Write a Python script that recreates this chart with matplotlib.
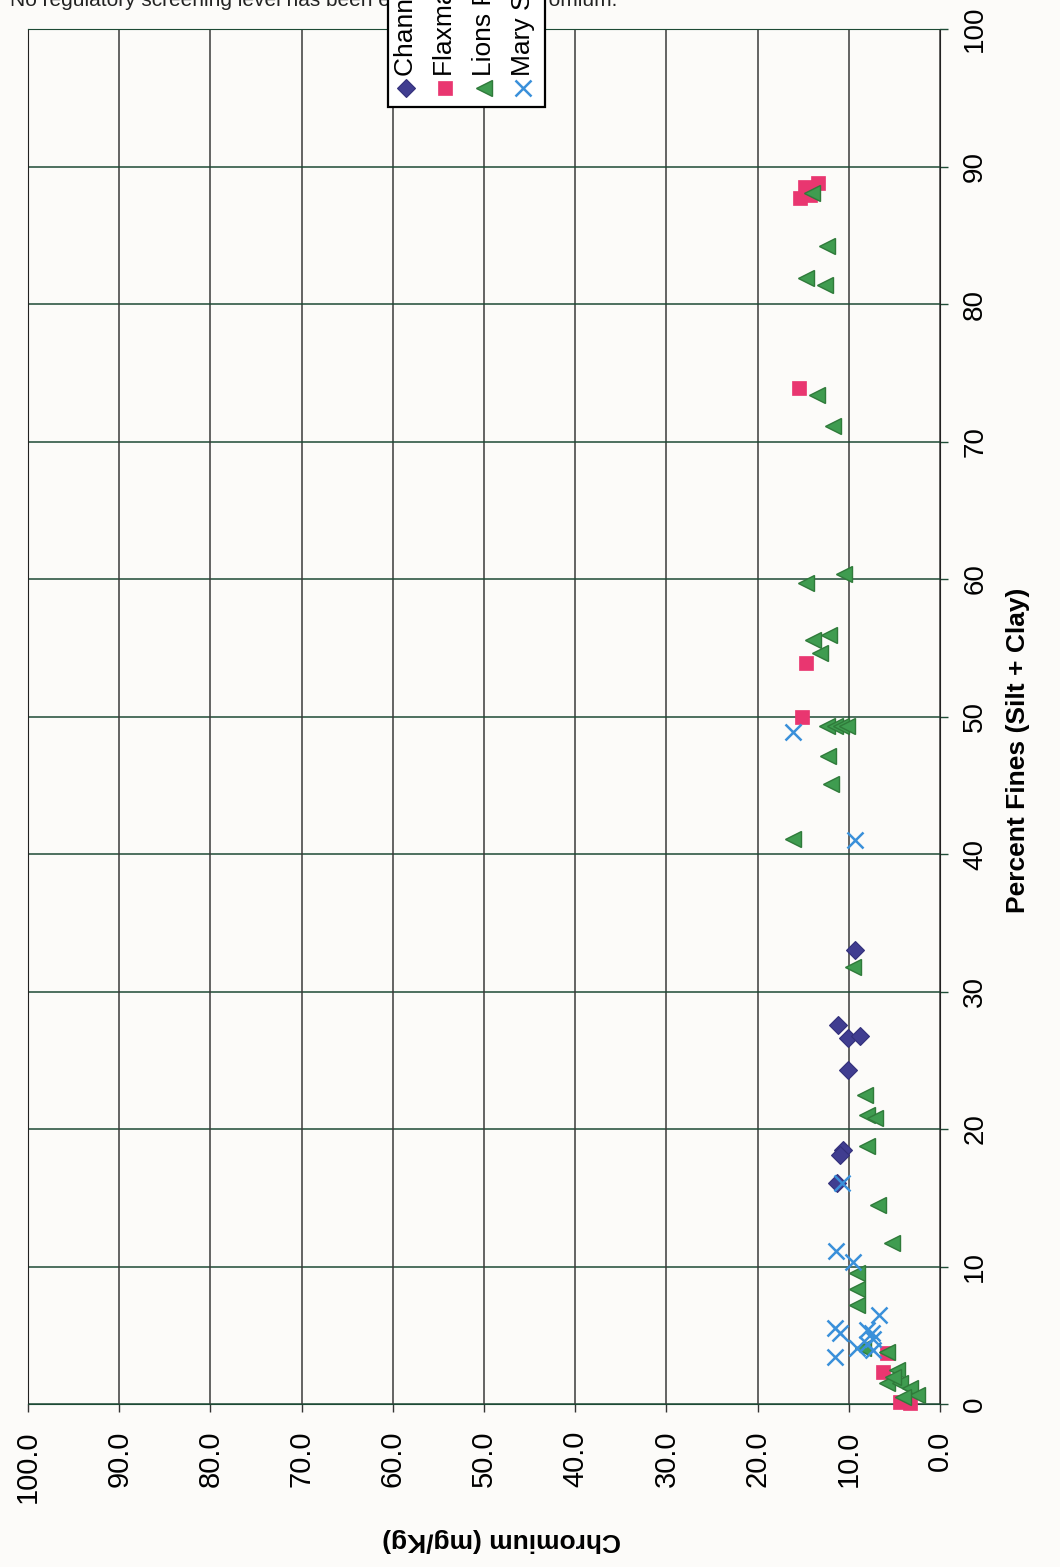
import matplotlib
matplotlib.use("Agg")
import numpy as np
import matplotlib.pyplot as plt
from matplotlib.patches import Rectangle

plt.rcParams['font.family'] = ['Liberation Sans', 'DejaVu Sans']

# chromium (mg/Kg) vs percent fines for each site
series_names = ['Channel Islands', 'Flaxman Pond', 'Lions Park', 'Mary Street']

channel_cr = [11.2, 10.1, 8.8, 10.1, 10.6, 11.0, 11.3, 9.3]
channel_fines = [27.6, 26.6, 26.8, 24.3, 18.5, 18.1, 16.1, 33.0]

flaxman_cr = [13.4, 14.8, 15.4, 14.3, 15.5, 14.7, 15.1, 5.8, 6.3, 4.4, 3.3]
flaxman_fines = [88.8, 88.5, 87.7, 87.9, 73.9, 53.9, 50.0, 3.7, 2.3, 0.15, 0.1]

lions_cr = [14.0, 12.4, 14.7, 12.6, 13.5, 11.7, 10.5, 14.7, 12.2, 13.9, 13.2,
            12.4, 11.5, 10.9, 10.2, 12.3, 12.0, 16.1, 9.5, 8.2, 8.0, 7.1, 8.0,
            6.8, 5.3, 9.1, 9.1, 9.1, 5.8, 4.7, 5.8, 4.4, 3.3, 2.5, 4.1, 5.2, 8.4]
lions_fines = [88.1, 84.2, 81.9, 81.4, 73.4, 71.1, 60.4, 59.7, 55.9, 55.6, 54.6,
               49.3, 49.3, 49.3, 49.3, 47.1, 45.1, 41.1, 31.8, 22.5, 21.0, 20.8, 18.8,
               14.5, 11.7, 9.5, 8.4, 7.2, 3.8, 2.5, 1.5, 1.5, 1.2, 0.65, 0.5, 2.0, 4.1]

mary_cr = [16.1, 9.3, 10.7, 11.4, 9.5, 6.7, 11.5, 11.0, 8.0, 7.5, 7.3, 8.0, 9.1, 11.5, 7.3]
mary_fines = [48.9, 41.0, 16.1, 11.1, 10.3, 6.5, 5.5, 5.2, 5.4, 5.2, 4.7, 4.4, 4.1, 3.4, 3.9]

ticks = np.arange(0, 101, 10)

bg = '#fcfbf9'
styles = [
    dict(marker='D', color='#403d90', markersize=9, mec='#33307a', mew=0.8),
    dict(marker='s', color='#e93670', markersize=10, mec='#e93670', mew=0.5),
    dict(marker='<', color='#3f9c50', markersize=12, mec='#2f7a3a', mew=1.0),
    dict(marker='x', color='#3a90da', markersize=11, mew=1.8),
]
data = [(channel_cr, channel_fines), (flaxman_cr, flaxman_fines),
        (lions_cr, lions_fines), (mary_cr, mary_fines)]

fig = plt.figure(figsize=(10.6, 15.67), dpi=100, facecolor=bg)
ax = fig.add_axes([28 / 1060, 1 - 1404 / 1567, 912 / 1060, 1375 / 1567])
ax.set_facecolor(bg)

for (cr, fn), st in zip(data, styles):
    ax.plot(cr, fn, linestyle='none', zorder=3, clip_on=False, **st)

ax.set_xlim(100, 0)
ax.set_ylim(0, 100)
ax.set_xticks(ticks)
ax.set_yticks(ticks)
ax.set_xticklabels(['%.1f' % t for t in ticks], rotation=90, va='top')
ax.set_yticklabels(['%d' % t for t in ticks], rotation=90, va='center')
ax.yaxis.tick_right()
ax.tick_params(axis='x', length=6, width=1, color='#333333', pad=13, labelsize=21)
ax.tick_params(axis='y', length=6, width=1, color='#1d4a35', pad=10, labelsize=20)

for t in ticks:
    ax.axvline(t, color='#3a3a3a', lw=1.1, zorder=1)
    ax.axhline(t, color='#1d4a35', lw=1.1, zorder=1)
for side in ['left', 'right']:
    ax.spines[side].set_color('#222222')
for side in ['top', 'bottom']:
    ax.spines[side].set_color('#1d4a35')

fig.text(1018 / 1060, 1 - 750 / 1567, 'Percent Fines (Silt + Clay)', rotation=90,
         ha='center', va='center', fontsize=19, fontweight='bold')
fig.text(502 / 1060, 1 - 1540 / 1567, 'Chromium (mg/Kg)', rotation=180,
         ha='center', va='center', fontsize=19, fontweight='bold')

# overlay in pixel units for the note and the hand-built legend
lg = fig.add_axes([0, 0, 1, 1], facecolor='none')
lg.set_xlim(0, 1060)
lg.set_ylim(1567, 0)
lg.axis('off')
lg.text(10, 1, 'No regulatory screening level has been established for chromium.',
        ha='left', va='center', fontsize=15, color='#222222', zorder=1)

# legend entries read along the rotated page
lg.add_patch(Rectangle((388, -20), 157, 127, facecolor='white', edgecolor='black',
                       lw=1.6, zorder=2))
for i, (name, st) in enumerate(zip(series_names, styles)):
    x = 406 + i * 39
    lg.plot([x], [88], linestyle='none', zorder=3, **st)
    lg.text(x, 76, name, rotation=90, ha='center', va='bottom', fontsize=19, zorder=3)

fig.savefig('out.png', dpi=100, facecolor=bg)
